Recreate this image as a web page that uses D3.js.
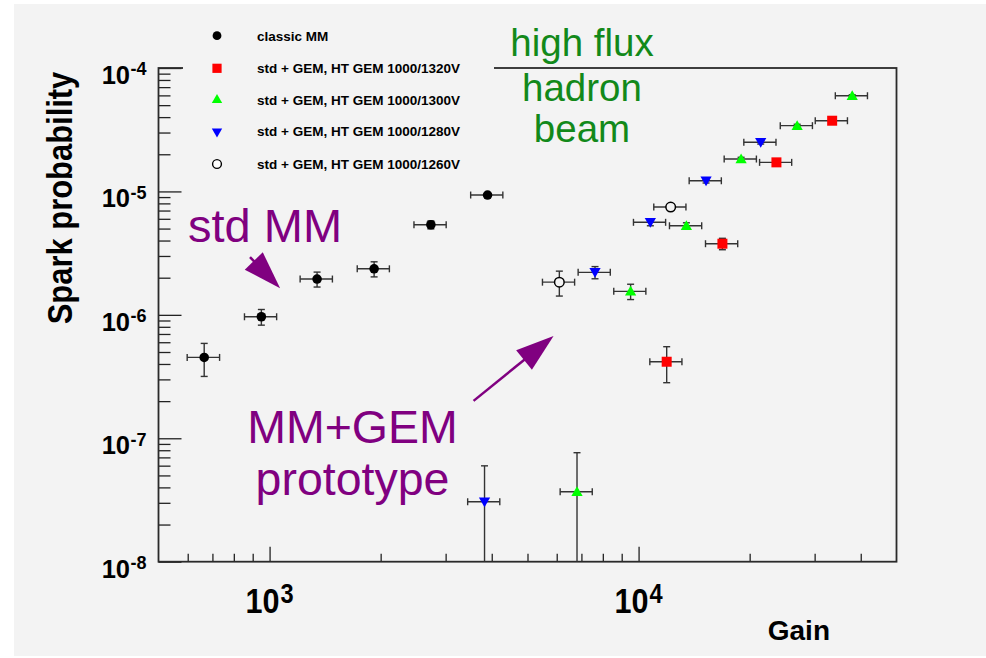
<!DOCTYPE html>
<html>
<head>
<meta charset="utf-8">
<script src="https://cdn.jsdelivr.net/npm/d3@7"></script>
<style>
  html, body { margin: 0; padding: 0; background: #ffffff; }
  svg { display: block; font-family: "Liberation Sans", Arial, sans-serif; }
</style>
</head>
<body>
<svg id="chart"></svg>
<script>
// ---- data ----
const seriesNames = [
  "classic MM",
  "std + GEM, HT GEM 1000/1320V",
  "std + GEM, HT GEM 1000/1300V",
  "std + GEM, HT GEM 1000/1280V",
  "std + GEM, HT GEM 1000/1260V"
];

const classicGain = [665, 950, 1345, 1920, 2736, 3897];
const classicGainErr = [67, 95, 135, 192, 274, 390];
const classicProb = [4.52e-7, 9.65e-7, 1.95e-6, 2.36e-6, 5.37e-6, 9.35e-6];
const classicProbErr = [1.35e-7, 1.4e-7, 2.7e-7, 3.3e-7, 4.0e-7, 3.0e-7];

const gem1320Gain = [11917, 16873, 23636, 33466];
const gem1320GainErr = [1190, 1690, 2360, 3350];
const gem1320Prob = [4.17e-7, 3.77e-6, 1.72e-5, 3.74e-5];
const gem1320ProbErr = [1.35e-7, 4.0e-7, 5.0e-7, 1.0e-6];

const gem1300Gain = [6810, 9515, 13476, 18960, 26900, 37925];
const gem1300GainErr = [680, 950, 1350, 1900, 2690, 3790];
const gem1300Prob = [3.69e-8, 1.55e-6, 5.27e-6, 1.83e-5, 3.41e-5, 5.96e-5];
const gem1300ProbErr = [3.95e-8, 2.2e-7, 3.0e-7, 6.0e-7, 9.0e-7, 1.2e-6];

const gem1280Gain = [3824, 7620, 10762, 15236, 21427];
const gem1280GainErr = [382, 762, 1076, 1524, 2143];
const gem1280Prob = [3.06e-8, 2.21e-6, 5.62e-6, 1.22e-5, 2.50e-5];
const gem1280ProbErr = [2.92e-8, 2.5e-7, 3.5e-7, 5.0e-7, 8.0e-7];

const gem1260Gain = [6099, 12217];
const gem1260GainErr = [610, 1222];
const gem1260Prob = [1.84e-6, 7.47e-6];
const gem1260ProbErr = [4.2e-7, 4.0e-7];

// axis ticks
const xMajorTicks = [1000, 10000];
const xExponents = ["3", "4"];
const xMinorTicks = [600, 700, 800, 900, 2000, 3000, 4000, 5000, 6000, 7000, 8000, 9000, 20000, 30000, 40000];
const yMajorTicks = [1e-8, 1e-7, 1e-6, 1e-5, 1e-4];
const yExponents = ["-8", "-7", "-6", "-5", "-4"];
const yMinorFactors = [2, 3, 4, 5, 6, 7, 8, 9];

// arrows in data coordinates: [gain, probability] tail -> tip
const arrowStdMM = [[885, 2.94e-6], [1068, 1.64e-6]];
const arrowGem = [[3571, 2.01e-7], [5883, 6.73e-7]];

// ---- layout ----
const width = 986;
const height = 658;
const marginLeft = 158.5;
const marginRight = 896.5;
const marginTop = 68;
const marginBottom = 561.7;

const bg = "#f3f3f3";
const purple = "#800080";
const green = "#12891a";
const errColor = "#333333";

const svg = d3.select("#chart")
  .attr("width", width)
  .attr("height", height)
  .attr("viewBox", [0, 0, width, height]);

// canvas background
svg.append("rect")
  .attr("x", 14).attr("y", 4)
  .attr("width", width - 14).attr("height", 652)
  .attr("fill", bg);

// scales
const x = d3.scaleLog().domain([500, 50000]).range([marginLeft, marginRight]);
const y = d3.scaleLog().domain([1e-8, 1e-4]).range([marginBottom, marginTop]);

// ---- axes (ticks drawn inside the frame) ----
const yMinorTicks = [];
yMajorTicks.slice(0, -1).forEach(d => yMinorFactors.forEach(f => yMinorTicks.push(d * f)));

function axisGroup(axis, transform) {
  const g = svg.append("g").attr("transform", transform).call(axis);
  g.select(".domain").remove();
  g.selectAll(".tick line").attr("stroke", "#222").attr("stroke-width", 1.3);
  g.selectAll(".tick text").remove();
  return g;
}

axisGroup(d3.axisLeft(y).tickValues(yMajorTicks).tickSize(-23).tickFormat(""), `translate(${marginLeft},0)`);
axisGroup(d3.axisLeft(y).tickValues(yMinorTicks).tickSize(-12).tickFormat(""), `translate(${marginLeft},0)`);
axisGroup(d3.axisBottom(x).tickValues(xMajorTicks).tickSize(-15).tickFormat(""), `translate(0,${marginBottom})`);
axisGroup(d3.axisBottom(x).tickValues(xMinorTicks).tickSize(-8).tickFormat(""), `translate(0,${marginBottom})`);

// frame
svg.append("rect")
  .attr("x", marginLeft).attr("y", marginTop)
  .attr("width", marginRight - marginLeft).attr("height", marginBottom - marginTop)
  .attr("fill", "none")
  .attr("stroke", "#2a2a2a")
  .attr("stroke-width", 1.8);

// y tick labels 10^n
yMajorTicks.forEach((d, i) => {
  const ty = y(d);
  svg.append("text")
    .attr("x", 130).attr("y", ty + 15.8)
    .attr("text-anchor", "end")
    .style("font-size", "25.5px").style("font-weight", "bold")
    .text("10");
  svg.append("text")
    .attr("x", 130.5).attr("y", ty + 7.3)
    .style("font-size", "18px").style("font-weight", "bold")
    .text(yExponents[i]);
});

// x tick labels 10^n (narrow glyphs in the original)
xMajorTicks.forEach((d, i) => {
  const tx = x(d);
  svg.append("text")
    .attr("transform", `translate(${tx - 24},613.3) scale(0.874,1)`)
    .style("font-size", "35px").style("font-weight", "bold")
    .text("10");
  svg.append("text")
    .attr("transform", `translate(${tx + 11},603.3) scale(0.874,1)`)
    .style("font-size", "27px").style("font-weight", "bold")
    .text(xExponents[i]);
});

// axis titles
svg.append("text")
  .attr("x", 830).attr("y", 640)
  .attr("text-anchor", "end")
  .style("font-size", "28px").style("font-weight", "bold")
  .text("Gain");

svg.append("text")
  .attr("transform", "translate(72,198) rotate(-90) scale(0.91,1.03)")
  .attr("text-anchor", "middle")
  .style("font-size", "34px").style("font-weight", "bold")
  .text("Spark probability");

// ---- series ----
const series = [
  { name: seriesNames[0], gain: classicGain, gainErr: classicGainErr, prob: classicProb, probErr: classicProbErr,
    symbol: d3.symbolCircle, size: 72, rotate: 0, fill: "#000", stroke: "none" },
  { name: seriesNames[1], gain: gem1320Gain, gainErr: gem1320GainErr, prob: gem1320Prob, probErr: gem1320ProbErr,
    symbol: d3.symbolSquare, size: 100, rotate: 0, fill: "#ff0000", stroke: "none" },
  { name: seriesNames[2], gain: gem1300Gain, gainErr: gem1300GainErr, prob: gem1300Prob, probErr: gem1300ProbErr,
    symbol: d3.symbolTriangle, size: 55, rotate: 0, fill: "#00ff00", stroke: "none" },
  { name: seriesNames[3], gain: gem1280Gain, gainErr: gem1280GainErr, prob: gem1280Prob, probErr: gem1280ProbErr,
    symbol: d3.symbolTriangle, size: 55, rotate: 180, fill: "#0000ff", stroke: "none" },
  { name: seriesNames[4], gain: gem1260Gain, gainErr: gem1260GainErr, prob: gem1260Prob, probErr: gem1260ProbErr,
    symbol: d3.symbolCircle, size: 72, rotate: 0, fill: bg, stroke: "#000" }
];

const errLayer = svg.append("g")
  .attr("stroke", errColor)
  .attr("stroke-width", 1.4)
  .attr("fill", "none");
const markLayer = svg.append("g");

series.forEach(s => {
  s.gain.forEach((g, i) => {
    const cx = x(g);
    const cy = y(s.prob[i]);
    const x0 = x(g - s.gainErr[i]);
    const x1 = x(g + s.gainErr[i]);
    const lo = s.prob[i] - s.probErr[i];
    const clipped = lo <= 1e-8;
    const y0 = clipped ? marginBottom : y(lo);
    const y1 = y(s.prob[i] + s.probErr[i]);

    // horizontal error bar with end ticks
    errLayer.append("line").attr("x1", x0).attr("x2", x1).attr("y1", cy).attr("y2", cy);
    errLayer.append("line").attr("x1", x0).attr("x2", x0).attr("y1", cy - 3.5).attr("y2", cy + 3.5);
    errLayer.append("line").attr("x1", x1).attr("x2", x1).attr("y1", cy - 3.5).attr("y2", cy + 3.5);
    // vertical error bar
    errLayer.append("line").attr("x1", cx).attr("x2", cx).attr("y1", y0).attr("y2", y1);
    errLayer.append("line").attr("x1", cx - 3.5).attr("x2", cx + 3.5).attr("y1", y1).attr("y2", y1);
    if (!clipped) {
      errLayer.append("line").attr("x1", cx - 3.5).attr("x2", cx + 3.5).attr("y1", y0).attr("y2", y0);
    }

    markLayer.append("path")
      .attr("d", d3.symbol(s.symbol, s.size)())
      .attr("transform", `translate(${cx},${cy + (s.symbol === d3.symbolTriangle ? (s.rotate ? -1 : 1) : 0)}) rotate(${s.rotate})`)
      .attr("fill", s.fill)
      .attr("stroke", s.stroke)
      .attr("stroke-width", 1.5);
  });
});

// ---- legend (its box hides part of the top frame line) ----
svg.append("rect")
  .attr("x", 183).attr("y", 14)
  .attr("width", 311).attr("height", 166)
  .attr("fill", bg);

const legendRows = [35.7, 68.3, 100, 131.5, 164];
series.forEach((s, i) => {
  markLayer.append("path")
    .attr("d", d3.symbol(s.symbol, s.size * 0.85)())
    .attr("transform", `translate(217,${legendRows[i]}) rotate(${s.rotate})`)
    .attr("fill", s.fill === bg ? "#ffffff" : s.fill)
    .attr("stroke", s.stroke)
    .attr("stroke-width", 1.4);
  svg.append("text")
    .attr("x", 257).attr("y", legendRows[i] + 4.8)
    .style("font-size", "13.5px").style("font-weight", "bold")
    .text(s.name);
});
markLayer.raise();

// ---- annotations ----
function arrow(coords) {
  const [tx, ty] = [x(coords[0][0]), y(coords[0][1])];
  const [hx, hy] = [x(coords[1][0]), y(coords[1][1])];
  const len = Math.hypot(hx - tx, hy - ty);
  const ux = (hx - tx) / len, uy = (hy - ty) / len;
  const headLen = 38, halfW = 12.5;
  const bx = hx - ux * headLen, by = hy - uy * headLen;
  svg.append("line")
    .attr("x1", tx).attr("y1", ty).attr("x2", bx + ux * 4).attr("y2", by + uy * 4)
    .attr("stroke", purple).attr("stroke-width", 2.5);
  svg.append("path")
    .attr("d", `M${hx},${hy}L${bx - uy * halfW},${by + ux * halfW}L${bx + uy * halfW},${by - ux * halfW}Z`)
    .attr("fill", purple);
}
arrow(arrowStdMM);
arrow(arrowGem);

svg.append("text")
  .attr("x", 188).attr("y", 241.7)
  .attr("fill", purple)
  .style("font-size", "47px")
  .text("std MM");

const gemLabel = svg.append("text")
  .attr("text-anchor", "middle")
  .attr("fill", purple)
  .style("font-size", "46.5px");
gemLabel.append("tspan").attr("x", 352.5).attr("y", 443.3).text("MM+GEM");
gemLabel.append("tspan").attr("x", 352.5).attr("y", 495).text("prototype");

const beamLabel = svg.append("text")
  .attr("text-anchor", "middle")
  .attr("fill", green)
  .style("font-size", "38.5px");
beamLabel.append("tspan").attr("x", 582).attr("y", 55.7).text("high flux");
beamLabel.append("tspan").attr("x", 582).attr("y", 100.7).text("hadron");
beamLabel.append("tspan").attr("x", 582).attr("y", 141.7).text("beam");
</script>
</body>
</html>
